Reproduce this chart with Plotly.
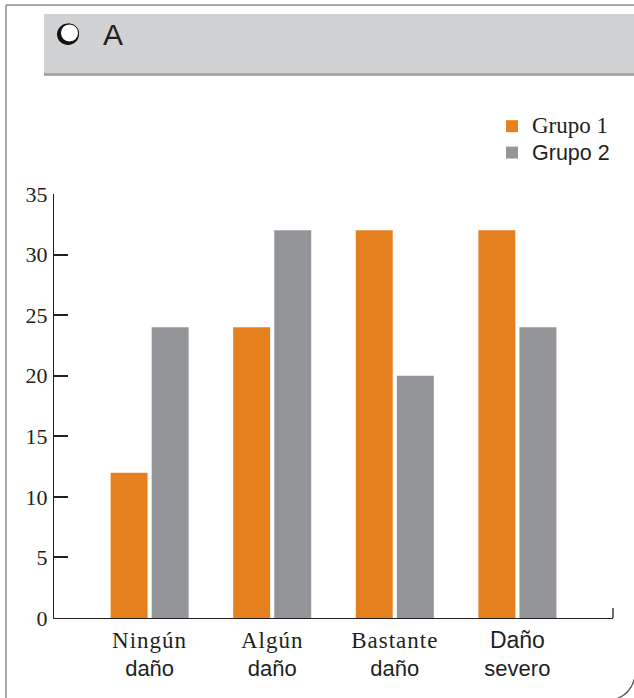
import plotly.graph_objects as go

# Damage categories (two-line labels) and the two group series
cat_top = ["Ningún", "Algún", "Bastante", "Daño"]
cat_bottom = ["daño", "daño", "daño", "severo"]
grupo1 = [12, 24, 32, 32]
grupo2 = [24, 32, 20, 24]
series_names = ["Grupo 1", "Grupo 2"]
y_ticks = [0, 5, 10, 15, 20, 25, 30, 35]
panel_letter = "A"

W, H = 634, 698
ML, MR, MT, MB = 54, 21, 194, 80
PW, PH = W - ML - MR, H - MT - MB

SERIF = "Liberation Serif, Times New Roman, serif"
SANS = "Liberation Sans, Arial, Helvetica, sans-serif"
INK = "#231f20"
ORANGE = "#e5801f"
GREY = "#939598"


def px(x):
    return (x - ML) / PW


def py(y):
    return (H - MB - y) / PH


def styled(t, family=None, size=None, spacing=None):
    parts = []
    if family:
        parts.append(f"font-family:{family}")
    if size:
        parts.append(f"font-size:{size}px")
    if spacing:
        parts.append(f"letter-spacing:{spacing}px")
    return f"<span style='{';'.join(parts)}'>{t}</span>"


x_idx = list(range(len(cat_top)))
ticktext = []
for top, bottom in zip(cat_top, cat_bottom):
    if top == "Daño":
        first = styled(top, size=23)
    else:
        first = styled(top, family=SERIF, size=23, spacing=1.0)
    ticktext.append(f"{first}<br>{bottom}")

fig = go.Figure()
fig.add_trace(go.Bar(x=x_idx, y=grupo1, name=styled(series_names[0], family=SERIF, size=23),
                     marker=dict(color=ORANGE, line=dict(width=0))))
fig.add_trace(go.Bar(x=x_idx, y=grupo2, name=styled(series_names[1], size=21.5),
                     marker=dict(color=GREY, line=dict(width=0))))

shapes = [
    # outer frame (left and top edges, rounded bottom-right corner)
    dict(type="line", xref="paper", yref="paper", x0=px(6), x1=px(6), y0=py(5), y1=py(700),
         line=dict(color="#8c8c8c", width=1.5)),
    dict(type="line", xref="paper", yref="paper", x0=px(6), x1=px(640), y0=py(5), y1=py(5),
         line=dict(color="#8c8c8c", width=1.5)),
    dict(type="path", xref="paper", yref="paper",
         path=f"M {px(636)} {py(668)} Q {px(635)} {py(697)} {px(608)} {py(701)}",
         line=dict(color="#555555", width=1.2)),
    # header band
    dict(type="rect", xref="paper", yref="paper", x0=px(44), x1=px(640), y0=py(73.5), y1=py(14),
         fillcolor="#d1d2d4", line=dict(width=0), layer="below"),
    dict(type="line", xref="paper", yref="paper", x0=px(44), x1=px(640), y0=py(74.5), y1=py(74.5),
         line=dict(color="#9a9a9a", width=2.5)),
    # bullet circle
    dict(type="circle", xref="paper", yref="paper", x0=px(57), x1=px(79), y0=py(45), y1=py(23.5),
         fillcolor="#111111", line=dict(width=0)),
    dict(type="circle", xref="paper", yref="paper", x0=px(60.5), x1=px(78.5), y0=py(42), y1=py(24),
         fillcolor="white", line=dict(color="#111111", width=1)),
    # end tick on the x axis
    dict(type="line", xref="paper", yref="paper", x0=1, x1=1, y0=0, y1=py(608),
         line=dict(color=INK, width=1.3)),
]

fig.update_layout(
    width=W, height=H,
    margin=dict(l=ML, r=MR, t=MT, b=MB, pad=0),
    paper_bgcolor="white", plot_bgcolor="white",
    barmode="group", bargap=0.33, bargroupgap=0.1,
    shapes=shapes,
    annotations=[dict(text=panel_letter, xref="paper", yref="paper", x=px(101), y=py(34),
                      xanchor="left", yanchor="middle", showarrow=False,
                      font=dict(family=SANS, size=30, color=INK))],
    legend=dict(x=px(492), y=py(108), xanchor="left", yanchor="top",
                font=dict(family=SANS, size=18, color=INK),
                bgcolor="rgba(0,0,0,0)", traceorder="normal",
                itemclick=False, tracegroupgap=0),
    font=dict(family=SANS, color=INK),
    showlegend=True,
)

fig.update_xaxes(
    range=[-0.78, 3.78], tickvals=x_idx, ticktext=ticktext,
    showline=True, linecolor=INK, linewidth=1.3, ticks="",
    showgrid=False, zeroline=False,
    tickfont=dict(family=SANS, size=22, color=INK),
    ticklabelstandoff=2,
)
fig.update_yaxes(
    range=[0, 35], tickmode="array", tickvals=y_ticks,
    showline=True, linecolor=INK, linewidth=1.3,
    ticks="inside", ticklen=14, tickcolor=INK, tickwidth=1.5,
    showgrid=False, zeroline=False,
    tickfont=dict(family=SERIF, size=22, color=INK),
    ticklabelstandoff=1,
)

fig.write_html("out.html")
